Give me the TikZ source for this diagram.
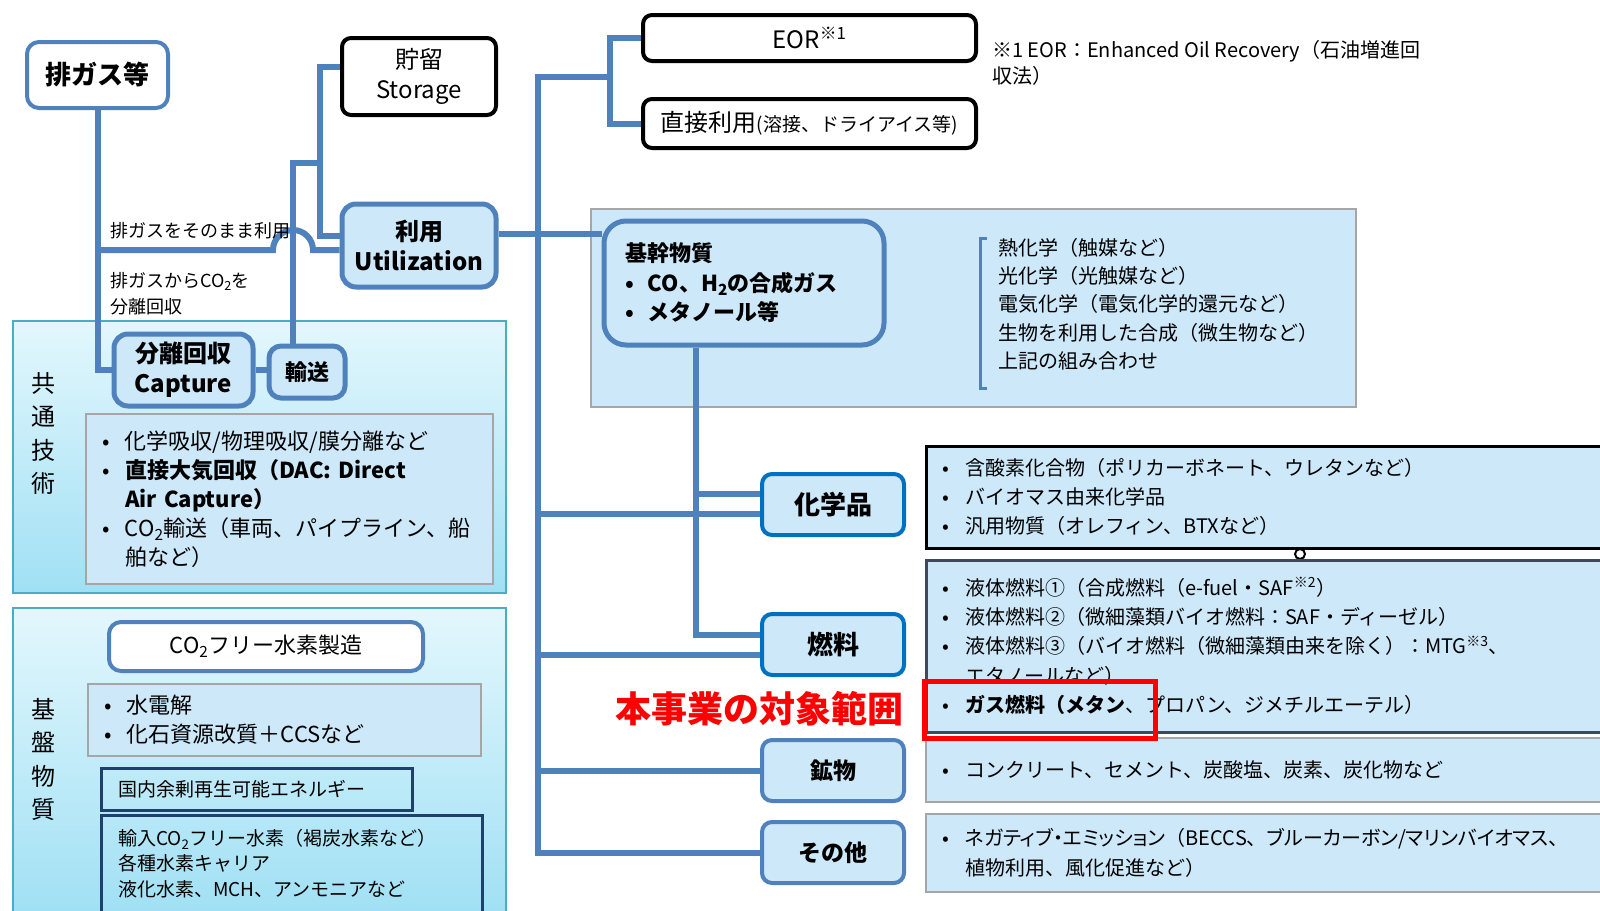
\documentclass[tikz,border=0pt]{standalone}
\usepackage{fontspec}
\setmainfont{Noto Sans CJK JP}
\pgfdeclarelayer{panel}
\pgfdeclarelayer{link}
\pgfsetlayers{panel,link,main}
\definecolor{linkblue}{HTML}{4F81BD}
\definecolor{paleblue}{HTML}{CCE8F9}
\definecolor{boxgray}{HTML}{A6A6A6}
\definecolor{deepblue}{HTML}{0070C0}
\definecolor{darknavy}{HTML}{1F3F6E}
\definecolor{slate}{HTML}{3C4A5C}
\definecolor{panelline}{HTML}{4BACC6}
\definecolor{paneltop}{HTML}{E3F7FD}
\definecolor{panelbottom}{HTML}{A0E0F4}
\newcommand{\cotwo}{CO\textsubscript{2}}
\newcommand{\bul}[1][23pt]{\makebox[#1][l]{•}}
\newcommand{\kana}[1]{{\addfontfeature{RawFeature=+palt}#1}}

\begin{document}
\begin{tikzpicture}[x=1pt,y=-1pt,
    link/.style={draw=linkblue,line width=6pt},
    box/.style={inner sep=0pt,align=center},
    plainbox/.style={box,draw=black,line width=4pt,fill=white,rounded corners=9pt,font=\fontsize{24}{30}\selectfont},
    gasbox/.style={box,draw=linkblue,line width=4pt,fill=white,rounded corners=12pt},
    keybox/.style={box,draw=linkblue,line width=5pt,fill=paleblue,rounded corners=14pt,font=\bfseries\fontsize{24}{30}\selectfont},
    prodbox/.style={keybox,draw=deepblue,line width=4pt,minimum width=142pt,minimum height=61pt,rounded corners=10pt},
    panel/.style={draw=panelline,line width=2pt,top color=paneltop,bottom color=panelbottom,minimum width=493pt},
    greybox/.style={box,draw=boxgray,line width=2pt,fill=paleblue},
    listbox/.style={box,align=left,inner xsep=16pt,font=\fontsize{20}{29.3}\selectfont},
    ]

    \useasboundingbox (0,0) rectangle (1600,910);
    \clip (0,0) rectangle (1600,910);

    \begin{pgfonlayer}{panel}
        \node[panel, minimum height=272pt] (common) at (259.5,457) {};
        \node[panel, minimum height=307pt] (infra) at (259.5,761.5) {};
        \node[greybox, minimum width=765pt, minimum height=198pt] (basepanel) at (973.5,308) {};
    \end{pgfonlayer}

    \node[gasbox, minimum width=141pt, minimum height=66pt, font=\bfseries\fontsize{26}{30}\selectfont] (gas) at (97.5,75) {排ガス等};

    \node[plainbox, minimum width=154pt, minimum height=77pt] (storage) at (419,76.5) {貯留\\Storage};

    \node[plainbox, minimum width=333pt, minimum height=46pt] (eor) at (809.5,38) {EOR\textsuperscript{※1}};

    \node[plainbox, minimum width=333pt, minimum height=49pt] (direct) at (809.5,123.5) {直接利用{\fontsize{19}{24}\selectfont(溶接、ドライアイス等)}};

    \node[box, align=left, anchor=north west, font=\fontsize{20}{26}\selectfont] (note) at (992,40) {※1 EOR：Enhanced Oil Recovery（石油増進回\\収法）};

    \node[keybox, minimum width=154pt, minimum height=83pt] (util) at (419,245.5) {利用\\Utilization};

    \node[box, anchor=west, font=\fontsize{18}{24}\selectfont] (directlabel) at (110,231) {排ガスをそのまま利用};

    \node[box, align=left, anchor=west, font=\fontsize{18}{26}\selectfont] (separatelabel) at (110,294) {排ガスから\cotwo を\\分離回収};

    \node[keybox, rounded corners=22pt, align=left, inner xsep=21pt, text width=238pt, minimum width=280pt, minimum height=124pt, font=\bfseries\fontsize{22}{29.5}\selectfont] (base) at (744,283) {基幹物質\\\bul CO、H\textsubscript{2}の合成ガス\\\bul メタノール等};

    \draw[linkblue, line width=3pt] (987,238) -- (980,238) -- (980,388) -- (987,388);
    \node[box, align=left, anchor=west, font=\fontsize{20}{28.3}\selectfont] (methods) at (998,304) {熱化学（触媒など）\\光化学（光触媒など）\\電気化学（電気化学的還元など）\\生物を利用した合成（微生物など）\\上記の組み合わせ};

    \node[box, font=\fontsize{24}{33.5}\selectfont] (commonlabel) at (43,433.5) {共\\通\\技\\術};

    \node[keybox, minimum width=139pt, minimum height=72pt] (capture) at (183.5,370) {分離回収\\Capture};

    \node[keybox, minimum width=76pt, minimum height=52pt, rounded corners=12pt, font=\bfseries\fontsize{22}{26}\selectfont] (transport) at (307,372) {輸送};

    \node[greybox, listbox, font=\fontsize{22}{29}\selectfont, text width=375pt, minimum width=407pt, minimum height=170pt] (capdesc) at (289.5,499) {\bul 化学吸収/物理吸収/膜分離など\\\bul\textbf{直接大気回収（DAC: Direct}\\\hspace*{23pt}\textbf{Air Capture）}\\\bul \cotwo 輸送（車両、パイプライン、船\\\hspace*{23pt}舶など）};

    \node[box, font=\fontsize{24}{33.5}\selectfont] (infralabel) at (43,759.5) {基\\盤\\物\\質};

    \node[gasbox, minimum width=314pt, minimum height=49pt, font=\fontsize{22}{26}\selectfont] (h2) at (266,646.5) {\cotwo フリー水素製造};

    \node[greybox, listbox, font=\fontsize{22}{29}\selectfont, text width=361pt, minimum width=393pt, minimum height=72pt] (h2desc) at (284.5,720) {\bul 水電解\\\bul 化石資源改質＋CCSなど};

    \node[box, draw=darknavy, line width=3pt, align=left, inner xsep=17pt, text width=277pt, minimum width=311pt, minimum height=42pt, font=\fontsize{19}{25.5}\selectfont] (renew) at (256.5,789) {国内余剰再生可能エネルギー};

    \node[box, draw=darknavy, line width=3pt, align=left, inner xsep=17pt, text width=347pt, minimum width=381pt, minimum height=97pt, font=\fontsize{19}{25.5}\selectfont] (import) at (291.5,863.5) {輸入\cotwo フリー水素（褐炭水素など）\\各種水素キャリア\\液化水素、MCH、アンモニアなど};

    \node[prodbox, font=\bfseries\fontsize{26}{30}\selectfont] (chem) at (833,504.5) {化学品};
    \node[prodbox, font=\bfseries\fontsize{26}{30}\selectfont] (fuel) at (833,644.5) {燃料};
    \node[prodbox, draw=linkblue, font=\bfseries\fontsize{23}{28}\selectfont] (mineral) at (833,770.5) {鉱物};
    \node[prodbox, draw=linkblue, font=\bfseries\fontsize{23}{28}\selectfont] (other) at (833,852.5) {その他};

    \node[listbox, draw=black, line width=3pt, fill=paleblue, text width=662pt, minimum width=694pt, minimum height=102pt] (chemdesc) at (1273,497) {\bul 含酸素化合物（ポリカーボネート、ウレタンなど）\\\bul バイオマス由来化学品\\\bul 汎用物質（オレフィン、BTXなど）};

    \draw[line width=2pt] (1300,554) circle[radius=5pt];

    \node[listbox, draw=slate, line width=3pt, fill=paleblue, text width=662pt, minimum width=694pt, minimum height=172pt] (fueldesc) at (1273,646) {\bul 液体燃料①（合成燃料（e-fuel・SAF\textsuperscript{※2}）\\\bul 液体燃料②（微細藻類バイオ燃料：SAF・ディーゼル）\\\bul 液体燃料③（バイオ燃料（微細藻類由来を除く）：MTG\textsuperscript{※3}、\\\hspace*{23pt}エタノールなど）\\\bul\textbf{ガス燃料（メタン}、プロパン、ジメチルエーテル）};

    \node[greybox, listbox, text width=662pt, minimum width=694pt, minimum height=64pt] (mindesc) at (1273,770) {\bul コンクリート、セメント、炭酸塩、炭素、炭化物など};

    \node[greybox, listbox, text width=662pt, minimum width=694pt, minimum height=78pt] (otherdesc) at (1273,853) {\bul \kana{ネガティブ・エミッション}（BECCS、\kana{ブルーカーボン/マリンバイオマス}、\\\hspace*{23pt}植物利用、風化促進など）};

    \node[box, draw=red, line width=5pt, minimum width=231pt, minimum height=57pt] (target) at (1039.5,709.5) {};
    \node[box, text=red, font=\bfseries\fontsize{36}{40}\selectfont] (targetlabel) at (759,709) {本事業の対象範囲};

    \begin{pgfonlayer}{link}
        \coordinate (hop) at (293,250);
        \coordinate (uj) at (320,163);
        \coordinate (fork) at (610,77);
        \coordinate (top) at (538,77);
        \path ([yshift=12pt]util.east) coordinate (ue);
        \path ([yshift=-9pt]chem.west) coordinate (chemlo) ([yshift=11pt]chem.west) coordinate (chemhi);
        \path ([yshift=-10pt]fuel.west) coordinate (fuello) ([yshift=10pt]fuel.west) coordinate (fuelhi);
        \path ([xshift=-48pt]base.south) coordinate (inner);

        \draw[link] (gas.south) |- (capture.west);
        \draw[link] (gas.south |- hop) -- ([xshift=-20pt]hop) arc[start angle=180, end angle=0, radius=20pt] -- (util.west |- hop);
        \draw[link] (capture.east) -- (capture.east -| transport.west);
        \draw[link] ([xshift=-14pt]transport.north) |- (uj);
        \draw[link] ([yshift=10pt]storage.west) -| (uj) |- ([yshift=10pt]util.west);
        \draw[link] (ue) -- (ue -| base.west);
        \draw[link] (eor.west) -| (fork) |- (direct.west);
        \draw[link] (fork) -- (top) |- (other.west);
        \draw[link] (top |- chemlo) -- (chemlo);
        \draw[link] (top |- fuello) -- (fuello);
        \draw[link] (top |- mineral.west) -- (mineral.west);
        \draw[link] (inner) |- (fuelhi);
        \draw[link] (inner |- chemhi) -- (chemhi);
    \end{pgfonlayer}

\end{tikzpicture}
\end{document}
